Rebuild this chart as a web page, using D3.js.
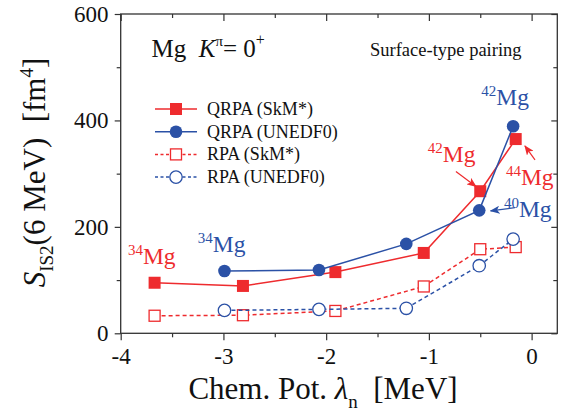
<!DOCTYPE html>
<html>
<head>
<meta charset="utf-8">
<script src="https://cdn.jsdelivr.net/npm/d3@7"></script>
<style>
  body { margin: 0; background: #fff; }
  svg { display: block; }
  text { font-family: "Liberation Serif", "Times New Roman", serif; fill: #111; }
</style>
</head>
<body>
<svg id="chart" width="567" height="415"></svg>
<script>
// chemical potential (MeV) for each force
const lambdaSkM = [-3.67, -2.81, -1.91, -1.05, -0.5, -0.155];
const lambdaUNE = [-2.99, -2.07, -1.22, -0.51, -0.18];

// S_IS2(6 MeV) in fm^4
const qrpaSkM = [95, 89, 115, 151, 267, 365];
const qrpaUNE = [117, 119, 168, 231, 389];
const rpaSkM = [33, 34, 42, 88, 158, 162];
const rpaUNE = [43, 45, 47, 127, 177];

const xTicks = [-4, -3, -2, -1, 0];
const xMinor = [-3.5, -2.5, -1.5, -0.5];
const yTicks = [0, 200, 400, 600];
const yMinor = [100, 300, 500];

// nucleus labels: mass, λ, S (where the text starts)
const isoMass = ["34", "34", "42", "42", "44", "40"];
const isoLam = [-3.93, -3.25, -0.49, -1.01, -0.25, -0.27];
const isoS = [130, 153, 429, 322, 279, 219];
const isoForce = ["SkM", "UNE", "UNE", "SkM", "SkM", "UNE"];

// arrows: from (λ,S) to (λ,S)
const arrFrom = [[-0.737, 304], [0.033, 326], [-0.163, 236]];
const arrTo = [[-0.542, 276], [-0.065, 352], [-0.399, 230]];
const arrForce = ["SkM", "SkM", "UNE"];

const RED = "#ee2b2e";
const BLUE = "#2b51a6";
const colorOf = { SkM: RED, UNE: BLUE };

const W = 567, H = 415;
const margin = { top: 14, right: 9.7, bottom: 81.7, left: 120.7 };

const svg = d3.select("#chart");

const x = d3.scaleLinear().domain([-4, 0.25]).range([margin.left, W - margin.right]);
const y = d3.scaleLinear().domain([0, 600]).range([H - margin.bottom, margin.top]);

// axes
function styleAxis(g) {
  g.select(".domain").remove();
  g.selectAll(".tick line").attr("stroke", "#333").attr("stroke-width", 1.2);
  g.selectAll(".tick text").attr("font-size", 23).attr("fill", "#111")
    .style("font-family", '"Liberation Serif", "Times New Roman", serif');
}

svg.append("g")
  .attr("transform", `translate(0,${H - margin.bottom})`)
  .call(d3.axisBottom(x).tickValues(xTicks).tickSize(7).tickPadding(7.4).tickFormat(d => String(d)))
  .call(styleAxis);
svg.append("g")
  .attr("transform", `translate(0,${H - margin.bottom})`)
  .call(d3.axisBottom(x).tickValues(xMinor).tickSize(4).tickFormat(""))
  .call(styleAxis);
svg.append("g")
  .attr("transform", `translate(0,${margin.top})`)
  .call(d3.axisTop(x).tickValues(xTicks).tickSize(-7).tickFormat(""))
  .call(styleAxis);
svg.append("g")
  .attr("transform", `translate(0,${margin.top})`)
  .call(d3.axisTop(x).tickValues(xMinor).tickSize(-4).tickFormat(""))
  .call(styleAxis);

svg.append("g")
  .attr("transform", `translate(${margin.left},0)`)
  .call(d3.axisLeft(y).tickValues(yTicks).tickSize(6).tickPadding(6.2))
  .call(styleAxis);
svg.append("g")
  .attr("transform", `translate(${margin.left},0)`)
  .call(d3.axisLeft(y).tickValues(yMinor).tickSize(4).tickFormat(""))
  .call(styleAxis);
svg.append("g")
  .attr("transform", `translate(${W - margin.right},0)`)
  .call(d3.axisRight(y).tickValues(yTicks).tickSize(-6).tickFormat(""))
  .call(styleAxis);
svg.append("g")
  .attr("transform", `translate(${W - margin.right},0)`)
  .call(d3.axisRight(y).tickValues(yMinor).tickSize(-4).tickFormat(""))
  .call(styleAxis);

// frame
svg.append("rect")
  .attr("x", margin.left).attr("y", margin.top)
  .attr("width", W - margin.left - margin.right)
  .attr("height", H - margin.top - margin.bottom)
  .attr("fill", "none").attr("stroke", "#333").attr("stroke-width", 1.3);

// series
const series = [
  { name: "RPA (SkM*)", lam: lambdaSkM, val: rpaSkM, color: RED, dash: "4,3", shape: "square", filled: false },
  { name: "RPA (UNEDF0)", lam: lambdaUNE, val: rpaUNE, color: BLUE, dash: "4,3", shape: "circle", filled: false },
  { name: "QRPA (SkM*)", lam: lambdaSkM, val: qrpaSkM, color: RED, dash: null, shape: "square", filled: true },
  { name: "QRPA (UNEDF0)", lam: lambdaUNE, val: qrpaUNE, color: BLUE, dash: null, shape: "circle", filled: true }
];

function drawMarker(g, s, cx, cy) {
  if (s.shape === "square") {
    const sz = s.filled ? 12 : 11;
    g.append("rect")
      .attr("x", cx - sz / 2).attr("y", cy - sz / 2)
      .attr("width", sz).attr("height", sz)
      .attr("fill", s.filled ? s.color : "#fff")
      .attr("stroke", s.color).attr("stroke-width", s.filled ? 0 : 1.3);
  } else {
    g.append("circle")
      .attr("cx", cx).attr("cy", cy).attr("r", s.filled ? 6.3 : 6.2)
      .attr("fill", s.filled ? s.color : "#fff")
      .attr("stroke", s.color).attr("stroke-width", s.filled ? 0 : 1.3);
  }
}

const line = d3.line().x(d => x(d[0])).y(d => y(d[1]));

series.forEach(s => {
  const pts = s.lam.map((l, i) => [l, s.val[i]]);
  const g = svg.append("g");
  g.append("path")
    .attr("d", line(pts))
    .attr("fill", "none")
    .attr("stroke", s.color)
    .attr("stroke-width", 1.5)
    .attr("stroke-dasharray", s.dash);
  pts.forEach(p => drawMarker(g, s, x(p[0]), y(p[1])));
});

// legend
const legendOrder = [series[2], series[3], series[0], series[1]];
legendOrder.forEach((s, i) => {
  const ly = 109 + i * 22.7;
  const g = svg.append("g");
  g.append("line")
    .attr("x1", 155).attr("x2", 197).attr("y1", ly).attr("y2", ly)
    .attr("stroke", s.color).attr("stroke-width", 1.5)
    .attr("stroke-dasharray", s.dash ? "3,2.5" : null);
  drawMarker(g, s, 176, ly);
  g.append("text")
    .attr("x", 207).attr("y", ly + 6)
    .attr("font-size", 18)
    .text(s.name);
});

// arrow heads
["SkM", "UNE"].forEach(k => {
  svg.append("defs").append("marker")
    .attr("id", "arrow-" + k)
    .attr("viewBox", "0 0 10 8")
    .attr("refX", 9).attr("refY", 4)
    .attr("markerWidth", 10).attr("markerHeight", 8)
    .attr("markerUnits", "userSpaceOnUse")
    .attr("orient", "auto")
    .append("path")
    .attr("d", "M0,0 L10,4 L0,8 L2.5,4 Z")
    .attr("fill", colorOf[k]);
});

arrFrom.forEach((f, i) => {
  svg.append("line")
    .attr("x1", x(f[0])).attr("y1", y(f[1]))
    .attr("x2", x(arrTo[i][0])).attr("y2", y(arrTo[i][1]))
    .attr("stroke", colorOf[arrForce[i]])
    .attr("stroke-width", 1.2)
    .attr("marker-end", `url(#arrow-${arrForce[i]})`);
});

// nucleus labels
isoMass.forEach((m, i) => {
  const t = svg.append("text")
    .attr("x", x(isoLam[i])).attr("y", y(isoS[i]))
    .attr("font-size", 23.5)
    .style("fill", colorOf[isoForce[i]]);
  t.append("tspan").attr("font-size", 15).attr("dy", -9).style("fill", colorOf[isoForce[i]]).text(m);
  t.append("tspan").attr("dy", 9).style("fill", colorOf[isoForce[i]]).text("Mg");
});

// panel title
const title = svg.append("text").attr("x", 151.5).attr("y", 57).attr("font-size", 25);
title.append("tspan").text("Mg\u00a0\u00a0");
title.append("tspan").attr("font-style", "italic").text("K");
title.append("tspan").attr("font-size", 15).attr("dy", -11).text("\u03c0");
title.append("tspan").attr("dy", 11).text("= 0");
title.append("tspan").attr("font-size", 16).attr("dy", -12).text("+");

svg.append("text")
  .attr("x", 370).attr("y", 56)
  .attr("font-size", 18.5)
  .text("Surface-type pairing");

// x label
const xl = svg.append("text")
  .attr("x", 323).attr("y", 399)
  .attr("text-anchor", "middle")
  .attr("font-size", 31);
xl.append("tspan").text("Chem. Pot. ");
xl.append("tspan").attr("font-style", "italic").text("\u03bb");
xl.append("tspan").attr("font-size", 19).attr("dy", 9).text("n");
xl.append("tspan").attr("dy", -9).text("\u00a0\u00a0[MeV]");

// y label
const yl = svg.append("text")
  .attr("transform", "translate(45,172.5) rotate(-90)")
  .attr("text-anchor", "middle")
  .attr("font-size", 31);
yl.append("tspan").attr("font-style", "italic").text("S");
yl.append("tspan").attr("font-size", 19).attr("dy", 8).text("IS2");
yl.append("tspan").attr("dy", -8).text("(6 MeV)\u00a0\u00a0[fm");
yl.append("tspan").attr("font-size", 19).attr("dy", -12).text("4");
yl.append("tspan").attr("dy", 12).text("]");
</script>
</body>
</html>
